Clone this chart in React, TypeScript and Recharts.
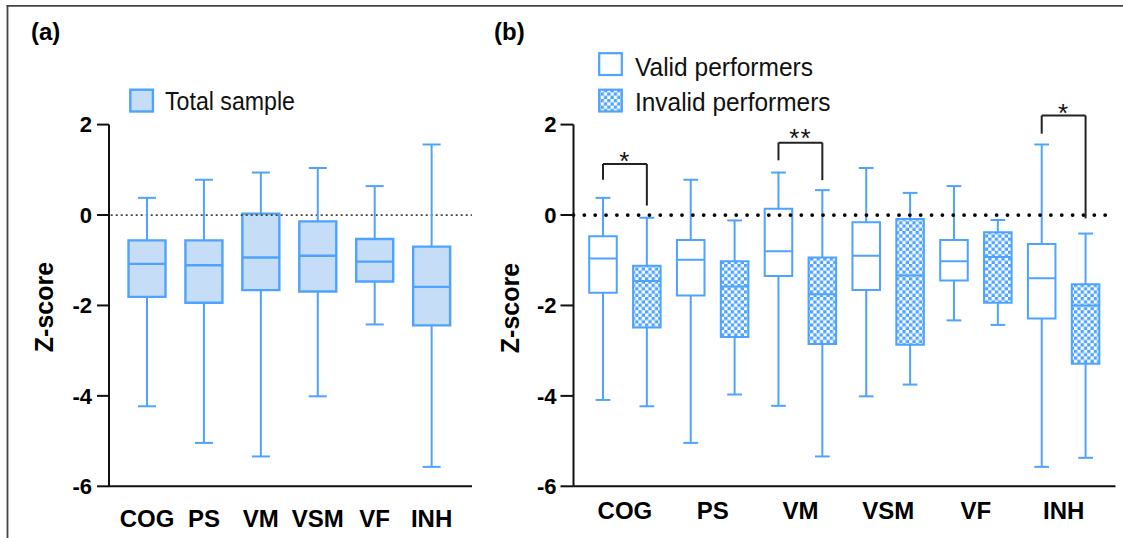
import React from 'react';
import {
  ComposedChart,
  XAxis,
  YAxis,
  ReferenceArea,
  ReferenceLine,
  ReferenceDot,
  Scatter,
} from 'recharts';

// ---------- data ----------
const categories = ['COG', 'PS', 'VM', 'VSM', 'VF', 'INH'];
const yTicks = [-6, -4, -2, 0, 2];
const xTicks = [0, 1, 2, 3, 4, 5];

// (a) Total sample
const totalMax = [0.38, 0.78, 0.94, 1.04, 0.64, 1.56];
const totalQ3 = [-0.56, -0.56, 0.03, -0.14, -0.53, -0.7];
const totalMedian = [-1.08, -1.11, -0.94, -0.9, -1.03, -1.59];
const totalQ1 = [-1.81, -1.94, -1.66, -1.69, -1.47, -2.44];
const totalMin = [-4.23, -5.04, -5.34, -4.01, -2.42, -5.57];

// (b) Valid performers
const validMax = [0.38, 0.78, 0.94, 1.04, 0.64, 1.56];
const validQ3 = [-0.47, -0.55, 0.14, -0.16, -0.55, -0.64];
const validMedian = [-0.96, -0.99, -0.8, -0.9, -1.02, -1.4];
const validQ1 = [-1.72, -1.78, -1.35, -1.66, -1.45, -2.29];
const validMin = [-4.09, -5.04, -4.22, -4.01, -2.33, -5.57];

// (b) Invalid performers
const invalidMax = [-0.06, -0.12, 0.55, 0.49, -0.11, -0.41];
const invalidQ3 = [-1.12, -1.02, -0.94, -0.09, -0.38, -1.53];
const invalidMedian = [-1.46, -1.58, -1.75, -1.34, -0.93, -2.0];
const invalidQ1 = [-2.49, -2.7, -2.85, -2.87, -1.94, -3.29];
const invalidMin = [-4.23, -3.97, -5.34, -3.75, -2.43, -5.37];

// significance brackets (b)
const sigCategory = [0, 2, 5];
const sigLabel = ['*', '**', '*'];
const sigTop = [1.13, 1.6, 2.2];
const sigLeftEnd = [0.78, 1.21, 1.8];
const sigRightEnd = [0.21, 0.77, -0.075];
const sigStarY = [1.33, 1.83, 2.39];

// ---------- styles ----------
const BLUE = '#4DA3FF';
const LIGHT = '#C6DDF8';
const AXIS = '#111';
const FONT = '"Liberation Sans", Arial, Helvetica, sans-serif';
const PAIR_OFFSET = 0.25;
const STAR_FS = 26;

function boxElements(
  key: string,
  xs: number[],
  max: number[],
  q3: number[],
  q1: number[],
  min: number[],
  halfBox: number,
  halfCap: number,
  fill: string,
  boxStroke: number,
  lineStroke: number
) {
  const out: any[] = [];
  xs.forEach((x, i) => {
    out.push(
      <ReferenceLine
        key={`${key}-wu-${i}`}
        segment={[{ x, y: q3[i] }, { x, y: max[i] }]}
        stroke={BLUE}
        strokeWidth={lineStroke}
        ifOverflow="visible"
      />
    );
    out.push(
      <ReferenceLine
        key={`${key}-wl-${i}`}
        segment={[{ x, y: min[i] }, { x, y: q1[i] }]}
        stroke={BLUE}
        strokeWidth={lineStroke}
        ifOverflow="visible"
      />
    );
    out.push(
      <ReferenceLine
        key={`${key}-cu-${i}`}
        segment={[{ x: x - halfCap, y: max[i] }, { x: x + halfCap, y: max[i] }]}
        stroke={BLUE}
        strokeWidth={lineStroke}
        ifOverflow="visible"
      />
    );
    out.push(
      <ReferenceLine
        key={`${key}-cl-${i}`}
        segment={[{ x: x - halfCap, y: min[i] }, { x: x + halfCap, y: min[i] }]}
        stroke={BLUE}
        strokeWidth={lineStroke}
        ifOverflow="visible"
      />
    );
    out.push(
      <ReferenceArea
        key={`${key}-box-${i}`}
        x1={x - halfBox}
        x2={x + halfBox}
        y1={q1[i]}
        y2={q3[i]}
        fill={fill}
        fillOpacity={1}
        stroke={BLUE}
        strokeWidth={boxStroke}
        ifOverflow="visible"
      />
    );
  });
  return out;
}

const medianShape = (halfPx: number, w: number) => (p: any) => (
  <line x1={p.cx - halfPx} x2={p.cx + halfPx} y1={p.cy} y2={p.cy} stroke={BLUE} strokeWidth={w} />
);

const yTickStyle = { fill: '#000', fontSize: 22, fontWeight: 700, fontFamily: FONT };

export default function App() {
  const totalX = categories.map((_, i) => i);
  const validX = categories.map((_, i) => i - PAIR_OFFSET);
  const invalidX = categories.map((_, i) => i + PAIR_OFFSET);

  const totalMedData = categories.map((c, i) => ({ x: totalX[i], y: totalMedian[i], name: c }));
  const validMedData = categories.map((c, i) => ({ x: validX[i], y: validMedian[i], name: c }));
  const invalidMedData = categories.map((c, i) => ({ x: invalidX[i], y: invalidMedian[i], name: c }));

  return (
    <div
      style={{
        position: 'absolute',
        left: 0,
        top: 0,
        width: 1123,
        height: 538,
        background: '#fff',
        fontFamily: FONT,
        overflow: 'hidden',
      }}
    >
      <svg width={0} height={0} style={{ position: 'absolute' }}>
        <defs>
          <pattern id="checker" width={6.6} height={6.6} patternUnits="userSpaceOnUse">
            <rect x={0} y={0} width={6.6} height={6.6} fill="#fff" />
            <rect x={0} y={0} width={3.3} height={3.3} fill={BLUE} />
            <rect x={3.3} y={3.3} width={3.3} height={3.3} fill={BLUE} />
          </pattern>
        </defs>
      </svg>

      {/* Panel (a) */}
      <div style={{ position: 'absolute', left: 0, top: 0 }}>
        <ComposedChart width={480} height={538} margin={{ top: 124.6, right: 8, bottom: 11.7, left: 49 }}>
          <XAxis
            type="number"
            dataKey="x"
            domain={[-0.6675, 5.709]}
            ticks={xTicks}
            interval={0}
            allowDataOverflow
            tickFormatter={(v: number) => categories[Math.round(v)]}
            axisLine={{ stroke: AXIS, strokeWidth: 2 }}
            tickLine={false}
            tickSize={0}
            tickMargin={24}
            height={40}
            tick={{ fill: '#000', fontSize: 24, fontWeight: 700, fontFamily: FONT }}
          />
          <YAxis
            type="number"
            dataKey="y"
            domain={[-6, 2]}
            ticks={yTicks}
            interval={0}
            allowDataOverflow
            width={60}
            axisLine={{ stroke: AXIS, strokeWidth: 2 }}
            tickLine={{ stroke: AXIS, strokeWidth: 2 }}
            tickSize={12}
            tickMargin={5}
            tick={yTickStyle}
          />
          <ReferenceLine
            y={0}
            stroke="#444"
            strokeWidth={1.8}
            strokeDasharray="2 3"
            strokeDashoffset={3.3}
          />
          {boxElements('t', totalX, totalMax, totalQ3, totalQ1, totalMin, 0.325, 0.158, LIGHT, 2.4, 2)}
          <Scatter
            name="Total sample"
            data={totalMedData}
            dataKey="y"
            isAnimationActive={false}
            shape={medianShape(18.5, 2.4)}
          />
        </ComposedChart>
      </div>

      {/* Panel (b) */}
      <div style={{ position: 'absolute', left: 480, top: 0 }}>
        <ComposedChart width={643} height={538} margin={{ top: 124.6, right: 7.5, bottom: 11.7, left: 33.5 }}>
          <XAxis
            type="number"
            dataKey="x"
            domain={[-0.586, 5.591]}
            ticks={xTicks}
            interval={0}
            allowDataOverflow
            tickFormatter={(v: number) => categories[Math.round(v)]}
            axisLine={{ stroke: AXIS, strokeWidth: 2 }}
            tickLine={false}
            tickSize={0}
            tickMargin={15.4}
            height={40}
            tick={{ fill: '#000', fontSize: 24, fontWeight: 700, fontFamily: FONT }}
          />
          <YAxis
            type="number"
            dataKey="y"
            domain={[-6, 2]}
            ticks={yTicks}
            interval={0}
            allowDataOverflow
            width={60}
            axisLine={{ stroke: AXIS, strokeWidth: 2 }}
            tickLine={{ stroke: AXIS, strokeWidth: 2 }}
            tickSize={13}
            tickMargin={4}
            tick={yTickStyle}
          />
          {boxElements('v', validX, validMax, validQ3, validQ1, validMin, 0.157, 0.084, 'none', 2, 2)}
          {boxElements('i', invalidX, invalidMax, invalidQ3, invalidQ1, invalidMin, 0.157, 0.084, 'url(#checker)', 2, 2)}
          <ReferenceLine
            y={0}
            stroke="#000"
            strokeWidth={3.8}
            strokeLinecap="round"
            strokeDasharray="0 10.85"
          />
          <Scatter
            name="Valid performers"
            data={validMedData}
            dataKey="y"
            isAnimationActive={false}
            shape={medianShape(13.8, 2)}
          />
          <Scatter
            name="Invalid performers"
            data={invalidMedData}
            dataKey="y"
            isAnimationActive={false}
            shape={medianShape(13.8, 2)}
          />
          {sigCategory.map((c, k) => [
            <ReferenceLine
              key={`sl-${k}`}
              segment={[{ x: c - PAIR_OFFSET, y: sigLeftEnd[k] }, { x: c - PAIR_OFFSET, y: sigTop[k] }]}
              stroke="#222"
              strokeWidth={2}
              ifOverflow="visible"
            />,
            <ReferenceLine
              key={`st-${k}`}
              segment={[{ x: c - PAIR_OFFSET, y: sigTop[k] }, { x: c + PAIR_OFFSET, y: sigTop[k] }]}
              stroke="#222"
              strokeWidth={2}
              ifOverflow="visible"
            />,
            <ReferenceLine
              key={`sr-${k}`}
              segment={[{ x: c + PAIR_OFFSET, y: sigTop[k] }, { x: c + PAIR_OFFSET, y: sigRightEnd[k] }]}
              stroke="#222"
              strokeWidth={2}
              ifOverflow="visible"
            />,
            <ReferenceDot
              key={`ss-${k}`}
              x={c}
              y={sigStarY[k]}
              r={1}
              ifOverflow="visible"
              shape={(p: any) => (
                <text
                  x={p.cx}
                  y={p.cy + 0.57 * STAR_FS}
                  textAnchor="middle"
                  fontSize={STAR_FS}
                  fontFamily={FONT}
                  fill="#111"
                  letterSpacing={1}
                >
                  {sigLabel[k]}
                </text>
              )}
            />,
          ])}
        </ComposedChart>
      </div>

      {/* overlay: frame, panel letters, axis titles, legends */}
      <svg
        width={1123}
        height={538}
        style={{ position: 'absolute', left: 0, top: 0, pointerEvents: 'none' }}
      >
        <line x1={7.5} y1={5} x2={7.5} y2={538} stroke="#444" strokeWidth={1.8} />
        <line x1={6.6} y1={5.8} x2={1123} y2={5.8} stroke="#444" strokeWidth={1.8} />

        <text x={31} y={40} fontSize={24} fontWeight={700} fontFamily={FONT} fill="#000">(a)</text>
        <text x={494} y={40} fontSize={24} fontWeight={700} fontFamily={FONT} fill="#000">(b)</text>

        <text
          x={53}
          y={307}
          transform="rotate(-90 53 307)"
          textAnchor="middle"
          fontSize={25}
          fontWeight={700}
          fontFamily={FONT}
          fill="#000"
        >
          Z-score
        </text>
        <text
          x={519}
          y={308}
          transform="rotate(-90 519 308)"
          textAnchor="middle"
          fontSize={25}
          fontWeight={700}
          fontFamily={FONT}
          fill="#000"
        >
          Z-score
        </text>

        {/* legend (a) */}
        <rect x={130.3} y={89.7} width={22.6} height={21.8} fill={LIGHT} stroke={BLUE} strokeWidth={2.4} />
        <text x={165} y={110} fontSize={25} fontFamily={FONT} fill="#111" textLength={130} lengthAdjust="spacingAndGlyphs">
          Total sample
        </text>

        {/* legend (b) */}
        <rect x={599.2} y={53.2} width={22.6} height={21.8} fill="#fff" stroke={BLUE} strokeWidth={2.2} />
        <text x={635} y={75.5} fontSize={25} fontFamily={FONT} fill="#111" textLength={178} lengthAdjust="spacingAndGlyphs">
          Valid performers
        </text>
        <rect x={599.2} y={89.7} width={22.6} height={21.8} fill="url(#checker)" stroke={BLUE} strokeWidth={2.2} />
        <text x={635} y={111} fontSize={25} fontFamily={FONT} fill="#111" textLength={195.5} lengthAdjust="spacingAndGlyphs">
          Invalid performers
        </text>
      </svg>
    </div>
  );
}
